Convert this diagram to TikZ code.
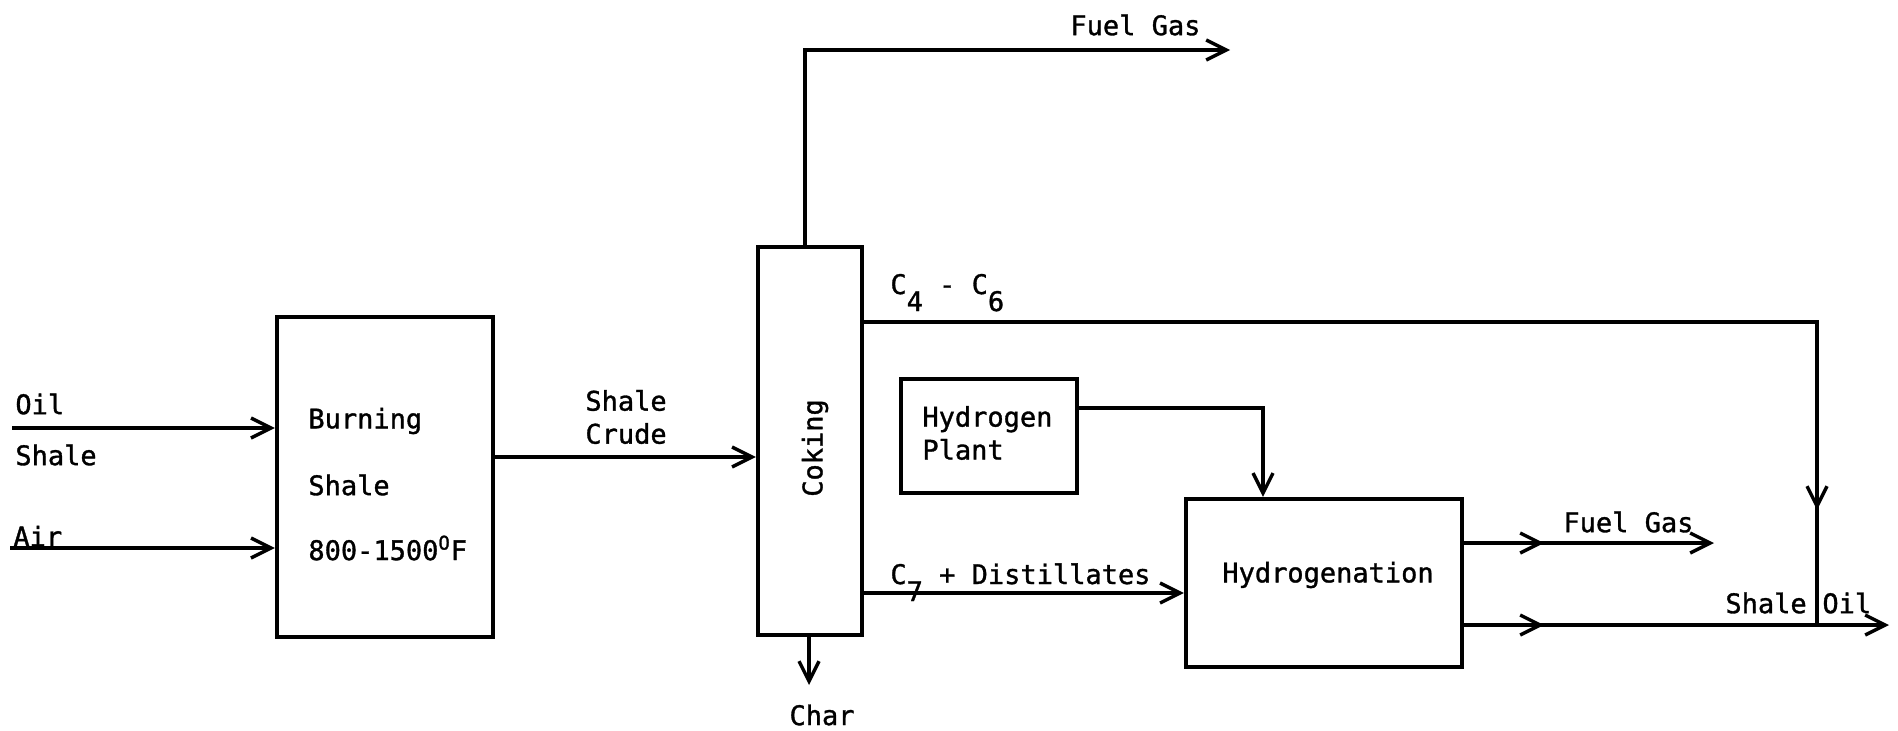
\documentclass[tikz,border=0pt]{standalone}
\usepackage{fontspec}
\setmainfont[FakeBold=1.2]{DejaVu Sans Mono}
\usetikzlibrary{arrows.meta}
\newcommand{\lowd}[1]{\raisebox{-8.5pt}{#1}}
\begin{document}
\begin{tikzpicture}[x=0.5pt,y=-0.5pt,
  box/.style={draw, line width=2.2pt, inner sep=0pt},
  lbl/.style={inner sep=0pt, font=\fontsize{13.5}{16.5}\selectfont},
  flow/.style={line width=1.7pt},
  arr/.style={flow, -{Straight Barb[length=10pt,width=10pt]}}]
\useasboundingbox (0,0) rectangle (1898,730);

% process boxes
\node[box, minimum width=108pt, minimum height=160pt] (burn) at (385,477) {};
\node[box, minimum width=52pt, minimum height=194pt] (coke) at (810,441) {};
\node[box, minimum width=88pt, minimum height=57pt] (h2p) at (989,436) {};
\node[box, minimum width=138pt, minimum height=84pt] (hydro) at (1324,583) {};

% texts
\node[lbl, anchor=west] (toil) at (15,404) {Oil};
\node[lbl, anchor=west] (tshale) at (15,455) {Shale};
\node[lbl, anchor=west] (tair) at (13,536) {Air};
\node[lbl, anchor=west] (tburn) at (308,421) {Burning};
\node[lbl, anchor=west] (tshale2) at (308,485) {Shale};
\node[lbl, anchor=west] (ttemp) at (308,548) {800-1500\textsuperscript{O}F};
\node[lbl, anchor=west, align=left] (tcrude) at (585,417) {Shale\\Crude};
\node[lbl, rotate=90] (tcoke) at (815,448) {Coking};
\node[lbl, anchor=west] (tfg1) at (1070,25) {Fuel Gas};
\node[lbl, anchor=base west] (tc46) at (890,294) {C\lowd{4} - C\lowd{6}};
\node[lbl, anchor=west, align=left] (th2) at (922,433) {Hydrogen\\Plant};
\node[lbl, anchor=base west] (tc7) at (890,584) {C\lowd{7} + Distillates};
\node[lbl] (thyd) at (1328,575) {Hydrogenation};
\node[lbl, anchor=west] (tfg2) at (1563,522) {Fuel Gas};
\node[lbl, anchor=west] (tso1) at (1725,603) {Shale};
\node[lbl, anchor=west] (tso2) at (1822,603) {Oil};
\node[lbl] (tchar) at (822,715) {Char};

% free ends and corners
\coordinate (oilin) at (12,428);
\coordinate (airin) at (10,548);
\coordinate (crudey) at (600,457);
\coordinate (fgtop) at (805,50);
\coordinate (fg1end) at (1230,50);
\coordinate (c4corner) at (1817,322);
\coordinate (c4mid) at (1817,510);
\coordinate (sojoin) at (1817,625);
\coordinate (charend) at (809,685);
\coordinate (h2corner) at (1263,408);
\coordinate (c7y) at (1000,593);
\coordinate (fg2mid) at (1544,543);
\coordinate (fg2end) at (1714,543);
\coordinate (somid) at (1544,625);
\coordinate (soend) at (1889,625);

% connectors
\draw[arr] (oilin) -- (oilin -| burn.west);
\draw[arr] (airin) -- (airin -| burn.west);
\draw[arr] (burn.east |- crudey) -- (coke.west |- crudey);
\draw[arr] (coke.north -| fgtop) -- (fgtop) -- (fg1end);
\draw[flow] (coke.east |- c4corner) -- (c4corner) -- (sojoin);
\draw[arr] (c4corner) -- (c4mid);
\draw[arr] (coke.south -| charend) -- (charend);
\draw[arr] (h2p.east |- h2corner) -- (h2corner) -- (hydro.north -| h2corner);
\draw[arr] (coke.east |- c7y) -- (hydro.west |- c7y);
\draw[arr] (hydro.east |- fg2end) -- (fg2end);
\draw[arr] (hydro.east |- fg2end) -- (fg2mid);
\draw[arr] (hydro.east |- soend) -- (soend);
\draw[arr] (hydro.east |- soend) -- (somid);
\end{tikzpicture}
\end{document}
